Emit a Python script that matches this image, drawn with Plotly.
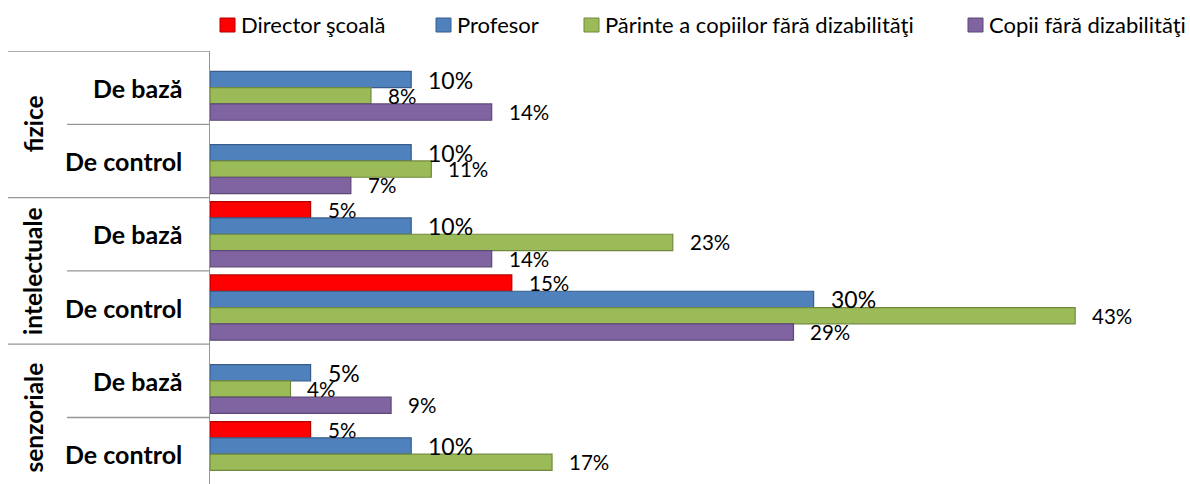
import plotly.graph_objects as go

# ---- data ----
groups = ["fizice", "intelectuale", "senzoriale"]
subgroups = ["De bază", "De control", "De bază", "De control", "De bază", "De control"]
series_names = ["Director şcoală", "Profesor", "Părinte a copiilor fără dizabilităţi", "Copii fără dizabilităţi"]
director = [None, None, 5, 15, None, 5]
profesor = [10, 10, 10, 30, 5, 10]
parinte = [8, 11, 23, 43, 4, 17]
copii = [14, 7, 14, 29, 9, None]

series_values = [director, profesor, parinte, copii]
fill_colors = ["#FF0000", "#4F81BD", "#9BBB59", "#8064A2"]
line_colors = ["#B00000", "#385D8A", "#71893F", "#5C4776"]
label_sizes = [20.5, 23, 20.5, 20.5]

FONT = "Lato"
BARGAP = 0.11
n_series = len(series_values)
slot = (1 - BARGAP) / n_series
positions = list(range(len(subgroups)))

fig = go.Figure()
annotations = []
shapes = []

for k, (name, vals) in enumerate(zip(series_names, series_values)):
    fig.add_trace(go.Bar(
        orientation="h", name=name, x=vals, y=positions,
        marker=dict(color=fill_colors[k], line=dict(color=line_colors[k], width=1.2)),
        showlegend=False, hoverinfo="x+name",
    ))
    for i, v in enumerate(vals):
        if v is None:
            continue
        yc = i - (1 - BARGAP) / 2 + (k + 0.5) * slot
        annotations.append(dict(
            x=v, y=yc, xref="x", yref="y", text=f"{v}%", showarrow=False,
            xanchor="left", yanchor="middle", xshift=15,
            font=dict(family=FONT, size=label_sizes[k], color="#000000"),
        ))

# category labels (inner)
for i, sg in enumerate(subgroups):
    annotations.append(dict(
        x=0, y=i, xref="paper", yref="y", text=f"<b>{sg}</b>", showarrow=False,
        xanchor="right", yanchor="middle", xshift=-26,
        font=dict(family=FONT, size=25, color="#000000"),
    ))
# category labels (outer, rotated)
for j, g in enumerate(groups):
    annotations.append(dict(
        x=0, y=2 * j + 0.5, xref="paper", yref="y", text=f"<b>{g}</b>", showarrow=False,
        xanchor="center", yanchor="middle", xshift=-177, textangle=-90,
        font=dict(family=FONT, size=24.5, color="#000000"),
    ))

# divider lines in the category area
for i in range(len(subgroups)):
    outer = (i % 2 == 0)
    shapes.append(dict(
        type="line", xref="paper", xsizemode="pixel", xanchor=0,
        x0=-202 if outer else -143, x1=0, yref="y", y0=i - 0.5, y1=i - 0.5,
        line=dict(color="#969696", width=1.3),
    ))

# manual legend
legend_boxes = [(10, 25), (226, 241), (374, 389), (758, 773)]
for k, name in enumerate(series_names):
    bx0, bx1 = legend_boxes[k]
    shapes.append(dict(
        type="rect", xref="paper", xsizemode="pixel", xanchor=0, x0=bx0, x1=bx1,
        yref="paper", ysizemode="pixel", yanchor=1, y0=19, y1=33,
        fillcolor=fill_colors[k], line=dict(color=line_colors[k], width=1),
    ))
    annotations.append(dict(
        x=0, y=1, xref="paper", yref="paper", text=name, showarrow=False,
        xanchor="left", yanchor="middle", xshift=bx1 + 4, yshift=27,
        font=dict(family=FONT, size=22, color="#000000"),
    ))

fig.update_layout(
    width=1190, height=484,
    margin=dict(l=210, r=5, t=51, b=0, pad=0),
    paper_bgcolor="white", plot_bgcolor="white",
    barmode="group", bargap=BARGAP, bargroupgap=0,
    showlegend=False,
    xaxis=dict(range=[0, 975 / 20.12], showgrid=False, zeroline=False,
               showticklabels=False, ticks="", showline=False, fixedrange=True),
    yaxis=dict(range=[-0.5 + 433 / 73.3, -0.5], showgrid=False, zeroline=False,
               showticklabels=False, ticks="", showline=True,
               linecolor="#969696", linewidth=1.3, fixedrange=True),
    annotations=annotations, shapes=shapes,
)

fig.write_html(
    "out.html",
    config={"displayModeBar": False},
    post_script="document.body.style.margin='0';document.body.style.overflow='hidden';",
)
